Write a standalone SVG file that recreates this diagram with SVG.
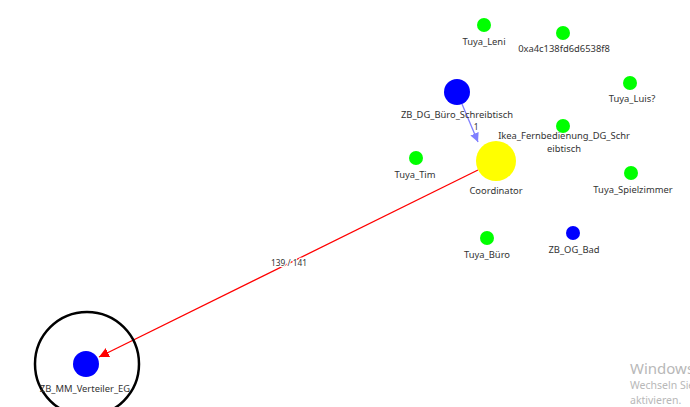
<svg xmlns="http://www.w3.org/2000/svg" width="690" height="407" viewBox="0 0 690 407">
<style>
text{font-family:"Noto Sans","Open Sans","DejaVu Sans",sans-serif;font-size:9.4px;fill:#333;text-anchor:middle}
.g{fill:#00ff00}
.b{fill:#0000ff}
.el{font-size:8.3px;stroke:#fff;stroke-width:2.5px;paint-order:stroke}
.wm{fill:#b8b8b8;text-anchor:start}
</style>
<defs>
<marker id="ar" viewBox="0 0 10 10" refX="10" refY="5" markerWidth="10" markerHeight="10" markerUnits="userSpaceOnUse" orient="auto"><path d="M0,0L10,5L0,10z" fill="#ff0000"/></marker>
<marker id="ab" viewBox="0 0 10 10" refX="10" refY="5" markerWidth="9" markerHeight="9" markerUnits="userSpaceOnUse" orient="auto"><path d="M0,0L10,5L0,10z" fill="#8080ff"/></marker>
</defs>
<g id="connectors">
<line x1="478" y1="170" x2="99" y2="357" stroke="#ff0000" stroke-width="1.3" marker-end="url(#ar)"/>
<text class="el" x="289" y="266">139 / 141</text>
<line x1="462" y1="104" x2="478" y2="142" stroke="#8080ff" stroke-width="1.3" marker-end="url(#ab)"/>
<text class="el" x="476" y="130">1</text>
</g>
<g id="n-leni"><circle class="g" cx="484" cy="25" r="7"/><text x="484" y="45">Tuya_Leni</text></g>
<g id="n-0xa4"><circle class="g" cx="563" cy="33" r="7"/><text x="564" y="52">0xa4c138fd6d6538f8</text></g>
<g id="n-zbdg"><circle class="b" cx="457" cy="92" r="13"/><text x="457" y="118">ZB_DG_Büro_Schreibtisch</text></g>
<g id="n-luis"><circle class="g" cx="630" cy="83" r="7"/><text x="632" y="102">Tuya_Luis?</text></g>
<g id="n-ikea"><circle class="g" cx="563" cy="126" r="7"/><text x="564" y="139">Ikea_Fernbedienung_DG_Schr</text><text x="564" y="152">eibtisch</text></g>
<g id="n-tim"><circle class="g" cx="416" cy="158" r="7"/><text x="415" y="178">Tuya_Tim</text></g>
<g id="n-coord"><circle fill="#ffff00" cx="496" cy="161" r="20"/><text x="496" y="194">Coordinator</text></g>
<g id="n-spiel"><circle class="g" cx="631" cy="173" r="7"/><text x="633" y="193">Tuya_Spielzimmer</text></g>
<g id="n-buero"><circle class="g" cx="487" cy="238" r="7"/><text x="487" y="258">Tuya_Büro</text></g>
<g id="n-ogbad"><circle class="b" cx="573" cy="233" r="7"/><text x="574" y="253">ZB_OG_Bad</text></g>
<g id="n-mm"><circle cx="87" cy="364" r="52" fill="none" stroke="#000" stroke-width="2.5"/><circle class="b" cx="86" cy="364" r="13"/><text x="85" y="392">ZB_MM_Verteiler_EG</text></g>
<g id="watermark">
<text class="wm" x="630" y="374" style="font-size:15px">Windows</text>
<text class="wm" x="630" y="389" style="font-size:10.5px">Wechseln Sie</text>
<text class="wm" x="630" y="404" style="font-size:10.5px">aktivieren.</text>
</g>
</svg>
